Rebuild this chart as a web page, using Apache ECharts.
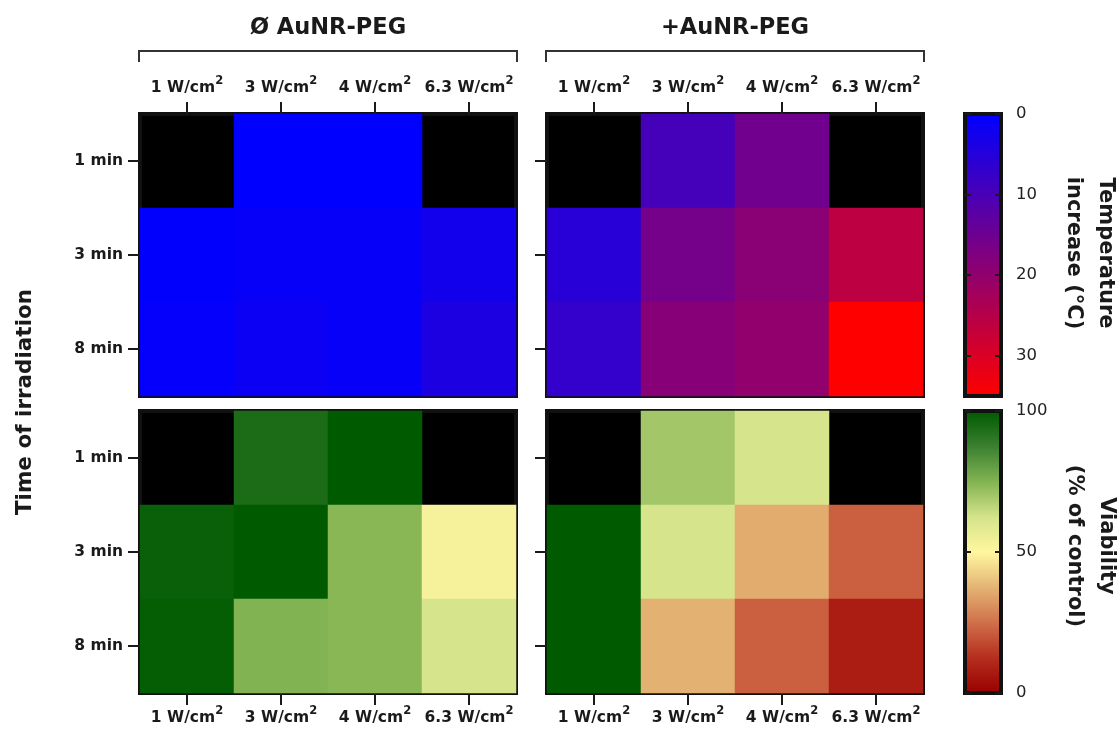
<!DOCTYPE html>
<html>
<head>
<meta charset="utf-8">
<script src="https://cdn.jsdelivr.net/npm/echarts@6/dist/echarts.min.js"></script>
<style>
  html, body { margin: 0; padding: 0; background: #fff; }
  #chart { width: 1120px; height: 729px; }
</style>
</head>
<body>
<div id="chart"></div>
<script>
// Irradiance levels (W/cm²) and irradiation times
const powers = ['1', '3', '4', '6.3'];
const times = ['1 min', '3 min', '8 min'];
const groups = ['Ø AuNR-PEG', '+AuNR-PEG'];

// Temperature increase (°C); rows = times, cols = powers; null = not tested
const tempNoNR = [
  [null, 0, 0, null],
  [0.3, 1, 1, 2.5],
  [0.5, 1.5, 1, 4]
];
const tempNR = [
  [null, 9.5, 15.5, null],
  [5.5, 16, 19, 26],
  [7, 18.5, 20, 35]
];

// Viability (% of control)
const viaNoNR = [
  [null, 94, 100, null],
  [98, 100, 74, 53],
  [99, 75, 74, 62]
];
const viaNR = [
  [null, 70, 62, null],
  [100, 62, 36, 22],
  [100, 37, 22, 8]
];

// Colour scale ticks and ranges
const tempTicks = [0, 10, 20, 30];
const viaTicks = [0, 50, 100];
const tempRange = [0, 35];
const viaRange = [0, 100];

const tempColors = ['#0000ff', '#ff0000'];
const viaColors = ['#990000', '#b52e1e', '#d0704a', '#e4b474', '#fff7a0',
                   '#d4e38a', '#82b352', '#3a8030', '#005a00'];

function toCells(matrix) {
  const out = [];
  matrix.forEach((row, r) => row.forEach((v, c) => {
    out.push([c, r, v === null ? '-' : v]);
  }));
  return out;
}

// Layout
const colLeft = [140, 547];
const rowTop = [114, 411];
const panelW = 376, panelH = 282;
const barLeft = 965, barW = 36;
const FONT = '"DejaVu Sans", "Liberation Sans", Arial, sans-serif';
const INK = '#1a1a1a';

const grids = [], xAxes = [], yAxes = [], series = [];
const panels = [
  { row: 0, col: 0, data: tempNoNR },
  { row: 0, col: 1, data: tempNR },
  { row: 1, col: 0, data: viaNoNR },
  { row: 1, col: 1, data: viaNR }
];

panels.forEach((p, i) => {
  grids.push({
    left: colLeft[p.col], top: rowTop[p.row], width: panelW, height: panelH,
    show: true, backgroundColor: '#000', borderColor: '#111', borderWidth: 4
  });
  xAxes.push({
    gridIndex: i, type: 'category', data: powers,
    position: p.row === 0 ? 'top' : 'bottom',
    axisLine: { show: false },
    axisTick: { show: true, interval: 0, alignWithLabel: true, length: 12, lineStyle: { color: INK, width: 2 } },
    axisLabel: {
      interval: 0,
      margin: p.row === 0 ? 14.5 : 12.5,
      formatter: v => `{b|${v} W/cm}{s|2}`,
      rich: {
        b: { fontFamily: FONT, fontSize: 15.5, fontWeight: 'bold', color: INK },
        s: { fontFamily: FONT, fontSize: 11.5, fontWeight: 'bold', color: INK, padding: [0, 0, 12, 0] }
      }
    },
    splitLine: { show: false }
  });
  yAxes.push({
    gridIndex: i, type: 'category', data: times, inverse: true,
    axisLine: { show: false },
    axisTick: { show: true, interval: 0, alignWithLabel: true, length: 12, lineStyle: { color: INK, width: 2 } },
    axisLabel: {
      show: p.col === 0, interval: 0, margin: 17,
      fontFamily: FONT, fontSize: 15.5, fontWeight: 'bold', color: INK
    },
    splitLine: { show: false }
  });
  series.push({
    type: 'heatmap', xAxisIndex: i, yAxisIndex: i,
    data: toCells(p.data),
    itemStyle: { borderWidth: 0 },
    emphasis: { disabled: true }
  });
});

// Colour bar frames with tick marks
const bars = [
  { top: rowTop[0], range: tempRange, ticks: tempTicks, inverse: true },
  { top: rowTop[1], range: viaRange, ticks: viaTicks, inverse: false }
];
bars.forEach((b, k) => {
  const gi = 4 + k;
  grids.push({
    left: barLeft, top: b.top, width: barW, height: panelH, z: 5,
    show: true, backgroundColor: 'transparent', borderColor: '#111', borderWidth: 4
  });
  xAxes.push({ gridIndex: gi, type: 'value', show: false, min: 0, max: 1 });
  const common = {
    gridIndex: gi, type: 'value', min: b.range[0], max: b.range[1],
    inverse: b.inverse, z: 6,
    axisLine: { show: false }, splitLine: { show: false }
  };
  yAxes.push(Object.assign({}, common, {
    position: 'left',
    axisTick: { show: true, inside: true, length: 6, customValues: b.ticks, lineStyle: { color: INK, width: 2 } },
    axisLabel: { show: false }
  }));
  yAxes.push(Object.assign({}, common, {
    position: 'right',
    axisTick: { show: true, inside: true, length: 6, customValues: b.ticks, lineStyle: { color: INK, width: 2 } },
    axisLabel: {
      show: true, inside: false, margin: 15, customValues: b.ticks,
      fontFamily: FONT, fontSize: 16.5, color: '#222'
    }
  }));
});

// Brackets and text
const graphics = [];
groups.forEach((g, c) => {
  const x0 = colLeft[c] - 1, x1 = colLeft[c] + panelW + 1;
  graphics.push({
    type: 'polyline', silent: true,
    shape: { points: [[x0, 62], [x0, 51], [x1, 51], [x1, 62]] },
    style: { stroke: '#333', lineWidth: 2, fill: null }
  });
  graphics.push({
    type: 'text', silent: true, x: (x0 + x1) / 2, y: 28,
    style: { text: g, fill: INK, font: `bold 22.5px ${FONT}`, textAlign: 'center', textVerticalAlign: 'middle' }
  });
});
graphics.push({
  type: 'text', silent: true, x: 25, y: 402, rotation: Math.PI / 2,
  style: { text: 'Time of irradiation', fill: INK, font: `bold 21.5px ${FONT}`, textAlign: 'center', textVerticalAlign: 'middle' }
});
graphics.push({
  type: 'text', silent: true, x: 1089, y: 253, rotation: -Math.PI / 2,
  style: { text: 'Temperature\nincrease (°C)', fill: INK, font: `bold 21px ${FONT}`, lineHeight: 32, textAlign: 'center', textVerticalAlign: 'middle' }
});
graphics.push({
  type: 'text', silent: true, x: 1090, y: 546, rotation: -Math.PI / 2,
  style: { text: 'Viability\n(% of control)', fill: INK, font: `bold 21px ${FONT}`, lineHeight: 32, textAlign: 'center', textVerticalAlign: 'middle' }
});

const chart = echarts.init(document.getElementById('chart'), null, { renderer: 'canvas' });
chart.setOption({
  backgroundColor: '#fff',
  animation: false,
  grid: grids,
  xAxis: xAxes,
  yAxis: yAxes,
  visualMap: [
    {
      type: 'continuous', seriesIndex: [0, 1], min: tempRange[0], max: tempRange[1],
      inverse: true, calculable: false, text: null, showLabel: false,
      left: barLeft, top: rowTop[0], itemWidth: barW, itemHeight: panelH, padding: 0, z: 1,
      inRange: { color: tempColors }, hoverLink: false
    },
    {
      type: 'continuous', seriesIndex: [2, 3], min: viaRange[0], max: viaRange[1],
      calculable: false, text: null, showLabel: false,
      left: barLeft, top: rowTop[1], itemWidth: barW, itemHeight: panelH, padding: 0, z: 1,
      inRange: { color: viaColors }, hoverLink: false
    }
  ],
  series: series,
  graphic: graphics
});
</script>
</body>
</html>
